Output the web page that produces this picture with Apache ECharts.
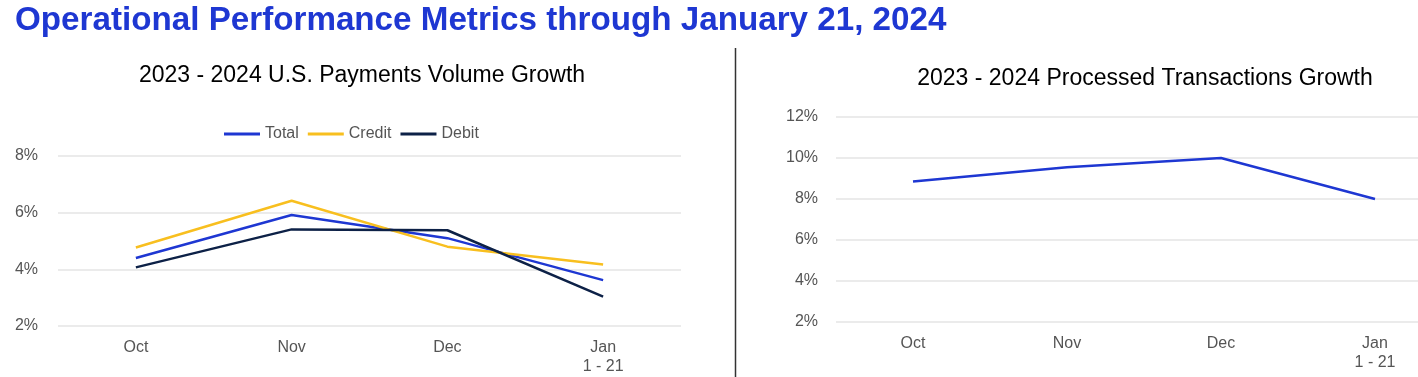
<!DOCTYPE html>
<html>
<head>
<meta charset="utf-8">
<script src="https://cdn.jsdelivr.net/npm/echarts@6/dist/echarts.min.js"></script>
<style>
  html, body { margin: 0; padding: 0; background: #fff; overflow: hidden; }
  #main { width: 1460px; height: 377px; }
</style>
</head>
<body>
<div id="main"></div>
<script>
var months = ['Oct', 'Nov', 'Dec', 'Jan\n1 - 21'];
var totalGrowth = [4.40, 5.92, 5.10, 3.62];
var creditGrowth = [4.77, 6.42, 4.80, 4.17];
var debitGrowth = [4.07, 5.41, 5.38, 3.04];
var transactionsGrowth = [8.85, 9.55, 10.0, 8.0];

var myChart = echarts.init(document.getElementById('main'));

var font = 'Liberation Sans, Arial';
var axisText = { color: '#555', fontSize: 16, fontFamily: font, lineHeight: 19 };
var gridLine = { lineStyle: { color: '#e5e5e5', width: 1.5 } };

var option = {
    animation: false,
    title: [
        {
            text: '2023 - 2024 U.S. Payments Volume Growth',
            left: 357, top: 59, textAlign: 'center',
            textStyle: { color: '#000', fontSize: 23, fontWeight: 'normal', fontFamily: font }
        },
        {
            text: '2023 - 2024 Processed Transactions Growth',
            left: 1140, top: 62, textAlign: 'center',
            textStyle: { color: '#000', fontSize: 23, fontWeight: 'normal', fontFamily: font }
        }
    ],
    legend: {
        data: ['Total', 'Credit', 'Debit'],
        left: 219, top: 121,
        icon: 'rect', itemWidth: 36, itemHeight: 3, itemGap: 9,
        textStyle: { color: '#555', fontSize: 16, fontFamily: font }
    },
    grid: [
        { left: 58, top: 156, width: 623, height: 170 },
        { left: 836, top: 117, width: 616, height: 205 }
    ],
    xAxis: [
        {
            gridIndex: 0, type: 'category', data: months,
            axisLine: { show: false }, axisTick: { show: false },
            axisLabel: Object.assign({ margin: 12 }, axisText)
        },
        {
            gridIndex: 1, type: 'category', data: months,
            axisLine: { show: false }, axisTick: { show: false },
            axisLabel: Object.assign({ margin: 12 }, axisText)
        }
    ],
    yAxis: [
        {
            gridIndex: 0, type: 'value', min: 2, max: 8, interval: 2,
            axisLabel: Object.assign({ formatter: '{value}%', margin: 20 }, axisText),
            splitLine: gridLine
        },
        {
            gridIndex: 1, type: 'value', min: 2, max: 12, interval: 2,
            axisLabel: Object.assign({ formatter: '{value}%', margin: 18 }, axisText),
            splitLine: gridLine
        }
    ],
    series: [
        {
            name: 'Total', type: 'line', xAxisIndex: 0, yAxisIndex: 0,
            data: totalGrowth, showSymbol: false, color: '#1E37D2',
            lineStyle: { width: 2.5 }
        },
        {
            name: 'Credit', type: 'line', xAxisIndex: 0, yAxisIndex: 0,
            data: creditGrowth, showSymbol: false, color: '#F8BF1F',
            lineStyle: { width: 2.5 }
        },
        {
            name: 'Debit', type: 'line', xAxisIndex: 0, yAxisIndex: 0,
            data: debitGrowth, showSymbol: false, color: '#0D2147',
            lineStyle: { width: 2.5 }
        },
        {
            name: 'Transactions', type: 'line', xAxisIndex: 1, yAxisIndex: 1,
            data: transactionsGrowth, showSymbol: false, color: '#1E37D2',
            lineStyle: { width: 2.5 }
        }
    ],
    graphic: [
        {
            type: 'text',
            x: 15, y: 4,
            style: {
                text: 'Operational Performance Metrics through January 21, 2024',
                fill: '#1E37D2', fontSize: 33.2, fontWeight: 'bold', fontFamily: font
            }
        },
        {
            type: 'line',
            shape: { x1: 735.5, y1: 48, x2: 735.5, y2: 377 },
            style: { stroke: '#333', lineWidth: 1.5 }
        }
    ]
};

myChart.setOption(option);
</script>
</body>
</html>
